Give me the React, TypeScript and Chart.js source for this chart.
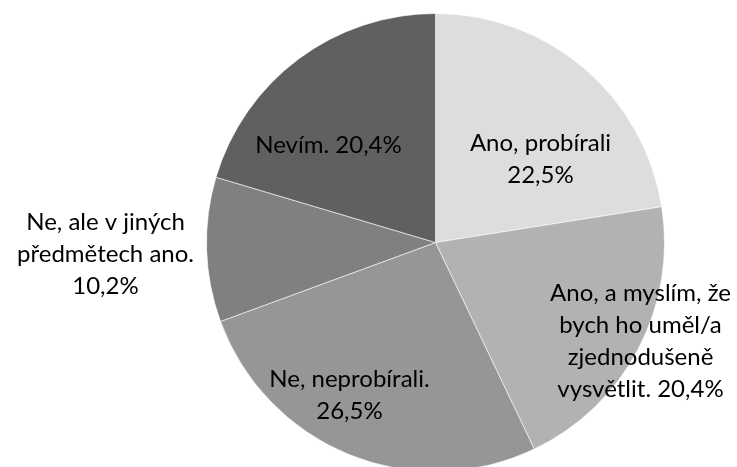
import React, { useEffect, useRef } from "react";
import { Chart, registerables } from "chart.js";

Chart.register(...registerables);

const categories = [
  "Ano, probírali",
  "Ano, a myslím, že bych ho uměl/a zjednodušeně vysvětlit.",
  "Ne, neprobírali.",
  "Ne, ale v jiných předmětech ano.",
  "Nevím.",
];
const values = [22.5, 20.4, 26.5, 10.2, 20.4];
const labelLines = [
  ["Ano, probírali", "{p}"],
  ["Ano, a myslím, že", "bych ho uměl/a", "zjednodušeně", "vysvětlit. {p}"],
  ["Ne, neprobírali.", "{p}"],
  ["Ne, ale v jiných", "předmětech ano.", "{p}"],
  ["Nevím. {p}"],
];
const colors = ["#dddddd", "#b2b2b2", "#969696", "#808080", "#606060"];

// label anchor offsets (px from pie centre, first baseline)
const labelOffsets = [
  [105, -92],
  [205, 58],
  [-86, 144],
  [-330, -13],
  [-107, -90],
];
const LINE_H = 32;

const fmt = (v: number) => v.toFixed(1).replace(".", ",") + "%";

const labelPlugin = {
  id: "sliceLabels",
  afterDatasetsDraw(chart: any) {
    const ctx = chart.ctx;
    const meta = chart.getDatasetMeta(0);
    ctx.save();
    ctx.font = '24px Lato, "Liberation Sans", sans-serif';
    ctx.fillStyle = "#000000";
    ctx.textAlign = "center";
    ctx.textBaseline = "alphabetic";
    meta.data.forEach((arc: any, i: number) => {
      const [dx, dy] = labelOffsets[i];
      const lines = labelLines[i].map((l) => l.replace("{p}", fmt(values[i])));
      lines.forEach((line, j) => {
        ctx.fillText(line, arc.x + dx, arc.y + dy + j * LINE_H);
      });
    });
    ctx.restore();
  },
};

export default function App() {
  const ref = useRef<HTMLCanvasElement | null>(null);
  useEffect(() => {
    if (!ref.current) return;
    const chart = new Chart(ref.current, {
      type: "pie",
      data: {
        labels: categories,
        datasets: [
          {
            data: values,
            backgroundColor: colors,
            borderColor: "rgba(255,255,255,0.6)",
            borderWidth: 1,
          },
        ],
      },
      options: {
        responsive: false,
        animation: false,
        events: [],
        layout: { padding: { left: 206, right: 72, top: 13, bottom: 8 } },
        plugins: {
          legend: { display: false },
          tooltip: { enabled: false },
        },
      },
      plugins: [labelPlugin],
    });
    return () => chart.destroy();
  }, []);
  return (
    <div
      style={{
        position: "fixed",
        left: 0,
        top: 0,
        width: 737,
        height: 467,
        overflow: "hidden",
        background: "#ffffff",
      }}
    >
      <canvas ref={ref} width={737} height={480} style={{ display: "block" }} />
    </div>
  );
}
